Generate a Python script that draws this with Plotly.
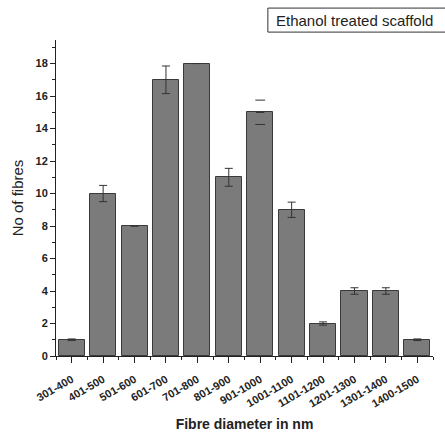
import plotly.graph_objects as go

# Fibre diameter histogram (counts per diameter bin, with error bars)
categories = ["301-400", "401-500", "501-600", "601-700", "701-800", "801-900",
              "901-1000", "1001-1100", "1101-1200", "1201-1300", "1301-1400", "1400-1500"]
counts = [1, 10, 8, 17, 18, 11, 15, 9, 2, 4, 4, 1]
errors = [0.05, 0.5, 0, 0.85, 0, 0.55, 0.75, 0.47, 0.1, 0.2, 0.2, 0.05]
# bins whose error is shown as end caps only
caps_only = ["901-1000"]

y_ticks = [0, 2, 4, 6, 8, 10, 12, 14, 16, 18]

positions = list(range(len(categories)))
bar_errors = [0 if c in caps_only else e for c, e in zip(categories, errors)]

FONT = "Liberation Sans, Arial, sans-serif"
INK = "#222222"

fig = go.Figure()
fig.add_trace(go.Bar(
    x=positions, y=counts, width=0.83,
    marker=dict(color="#7b7b7b", line=dict(color="#3a3a3a", width=1)),
    error_y=dict(type="data", array=bar_errors, visible=True,
                 color="#333333", thickness=1, width=4),
    showlegend=False,
))

# caps-only error markers
cap_x, cap_y = [], []
for c, p, v, e in zip(categories, positions, counts, errors):
    if c in caps_only:
        cap_x += [p, p]
        cap_y += [v + e, v - e]
fig.add_trace(go.Scatter(
    x=cap_x, y=cap_y, mode="markers",
    marker=dict(symbol="line-ew", size=7, line=dict(color="#333333", width=1)),
    showlegend=False, hoverinfo="skip",
))

fig.update_layout(
    width=445, height=434,
    margin=dict(l=56, r=12, t=40, b=78),
    paper_bgcolor="white", plot_bgcolor="white",
    font=dict(family=FONT, color=INK),
    bargap=0,
)

fig.update_xaxes(
    automargin=False,
    range=[-0.5, 11.5], tickmode="array", tickvals=positions, ticktext=categories,
    tickangle=-30, tickfont=dict(size=11, weight="bold", family=FONT, color=INK),
    ticks="outside", ticklen=6, tickwidth=1, tickcolor=INK, ticklabelstandoff=6,
    minor=dict(tickmode="array", tickvals=[p + 0.5 for p in [-1] + positions],
               ticks="outside", ticklen=3, tickwidth=1, tickcolor=INK),
    showline=True, linecolor=INK, linewidth=1, showgrid=False, zeroline=False,
    title=dict(text="Fibre diameter in nm", standoff=10,
               font=dict(size=14, weight="bold", family=FONT, color=INK)),
)

fig.update_yaxes(
    automargin=False,
    range=[0, 19.45], tickmode="array", tickvals=y_ticks,
    tickfont=dict(size=11, weight="bold", family=FONT, color=INK),
    ticks="outside", ticklen=5, tickwidth=1, tickcolor=INK,
    minor=dict(dtick=1, tick0=0, ticks="outside", ticklen=3, tickwidth=1, tickcolor=INK),
    showline=True, linecolor=INK, linewidth=1, showgrid=False, zeroline=False,
    title=dict(text="No of fibres", standoff=8,
               font=dict(size=15, family=FONT, color=INK)),
)

# boxed series label
fig.add_shape(type="rect", xref="paper", yref="paper",
              x0=0.562, x1=1.04, y0=1.025, y1=1.101,
              line=dict(color="#333333", width=1), fillcolor="white")
fig.add_annotation(xref="paper", yref="paper", x=0.578, y=1.063,
                   xanchor="left", yanchor="middle", showarrow=False,
                   text="Ethanol treated scaffold",
                   font=dict(size=15, family=FONT, color=INK))

fig.write_html("out.html")
